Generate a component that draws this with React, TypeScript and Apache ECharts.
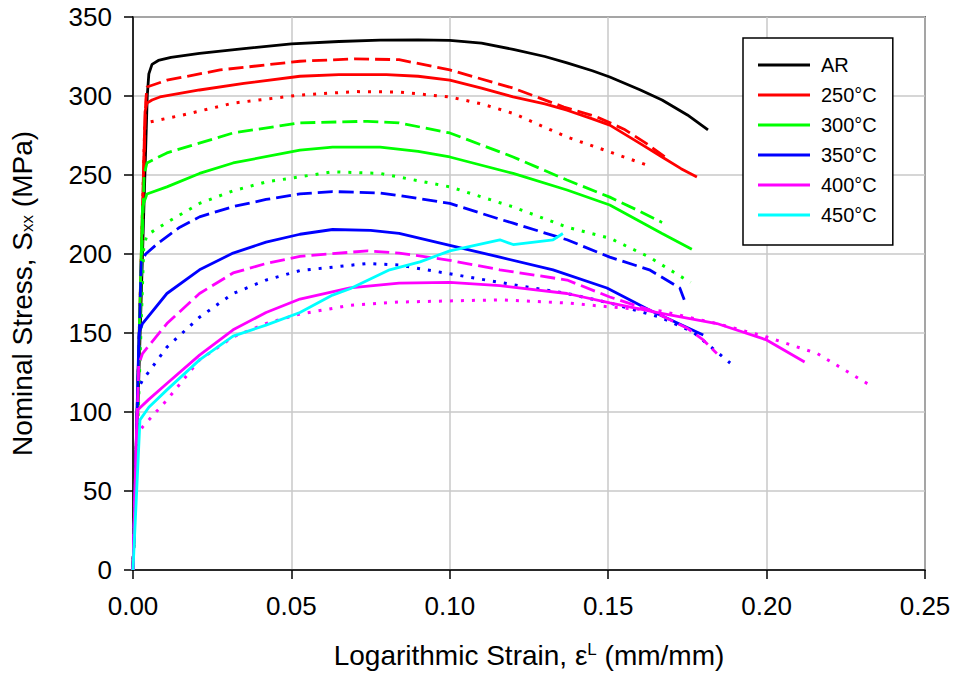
import React, { useEffect, useRef } from "react";
import * as echarts from "echarts";

type Pt = [number, number];

// Legend entries and colours
const LEGEND_NAMES = ["AR", "250°C", "300°C", "350°C", "400°C", "450°C"];
const COLORS = ["#000000", "#ff0000", "#00ff00", "#0000ff", "#ff00ff", "#00ffff"];

// X ticks / Y ticks
const X_MIN = 0;
const X_MAX = 0.25;
const X_STEP = 0.05;
const Y_MIN = 0;
const Y_MAX = 350;
const Y_STEP = 50;

// AR (as received) - solid black
const AR_SOLID: Pt[] = [
  [0, 0], [0.0045, 300], [0.005, 314], [0.006, 320], [0.008, 322.5], [0.012, 324.5],
  [0.021, 327], [0.035, 330], [0.05, 333], [0.065, 334.5], [0.078, 335.4], [0.09, 335.5],
  [0.1, 335.2], [0.11, 333.5], [0.12, 329.5], [0.13, 325], [0.137, 321], [0.145, 316],
  [0.1505, 312], [0.16, 304], [0.167, 297.5], [0.175, 288], [0.1815, 278.5],
];

// 250 °C
const T250_SOLID: Pt[] = [
  [0, 0], [0.0038, 290], [0.0044, 295.5], [0.006, 297.5], [0.0085, 299.4], [0.021, 303.8],
  [0.035, 308], [0.0527, 312.5], [0.065, 313.5], [0.08, 313.5], [0.09, 312.5], [0.1, 310],
  [0.11, 305], [0.12, 299.4], [0.13, 295], [0.137, 291], [0.145, 285.5], [0.1505, 281.6],
  [0.16, 270], [0.167, 261.4], [0.173, 254], [0.178, 248.8],
];
const T250_DASHED: Pt[] = [
  [0, 0], [0.004, 296], [0.0044, 305.7], [0.0107, 310], [0.0275, 316.5], [0.0527, 322],
  [0.07, 323.5], [0.084, 323], [0.1, 316.5], [0.12, 305], [0.136, 293], [0.1465, 286.7],
  [0.155, 279], [0.162, 270], [0.1685, 260.7],
];
const T250_DOTTED: Pt[] = [
  [0, 0], [0.0037, 280], [0.0054, 283.6], [0.0158, 288], [0.0316, 295.5], [0.0527, 300.6],
  [0.07, 302.8], [0.084, 302.5], [0.1, 299.4], [0.11, 295], [0.12, 289], [0.137, 274],
  [0.1505, 264.6], [0.164, 255],
];

// 300 °C
const T300_SOLID: Pt[] = [
  [0, 0], [0.003, 230], [0.0044, 238], [0.0107, 242.5], [0.021, 251], [0.0316, 257.6],
  [0.0527, 265.8], [0.063, 267.7], [0.078, 267.7], [0.09, 265], [0.1, 261.4], [0.12, 251],
  [0.137, 240.5], [0.1505, 231], [0.167, 213], [0.1764, 203],
];
const T300_DASHED: Pt[] = [
  [0, 0], [0.0035, 250], [0.0044, 257.6], [0.0107, 264], [0.0316, 276.6], [0.0527, 283],
  [0.074, 284], [0.084, 283], [0.1, 276.6], [0.12, 261.4], [0.137, 246.8], [0.1505, 236],
  [0.16, 227], [0.167, 220],
];
const T300_DOTTED: Pt[] = [
  [0, 0], [0.0034, 205], [0.0044, 212], [0.0107, 220], [0.021, 232], [0.0316, 240],
  [0.042, 245.6], [0.063, 252], [0.078, 251], [0.1, 242.5], [0.12, 229.8], [0.137, 217],
  [0.1505, 210], [0.163, 198], [0.176, 182],
];

// 350 °C
const T350_SOLID: Pt[] = [
  [0, 0], [0.0019, 150], [0.003, 156], [0.0107, 175], [0.021, 190], [0.0316, 200.6],
  [0.042, 207.5], [0.0527, 212.5], [0.063, 215.5], [0.075, 215], [0.084, 213], [0.1, 205.5],
  [0.1158, 198], [0.1326, 190], [0.1496, 178.5], [0.163, 164.6], [0.18, 148.7],
];
const T350_DASHED: Pt[] = [
  [0, 0], [0.0026, 195], [0.004, 200], [0.008, 207], [0.0148, 217], [0.021, 223.5],
  [0.0316, 230], [0.042, 234.5], [0.0527, 238], [0.063, 239.5], [0.078, 238.6], [0.084, 237],
  [0.1, 232], [0.1158, 222], [0.12, 219.5], [0.137, 209], [0.1505, 198], [0.163, 190],
  [0.1726, 178.5], [0.174, 171],
];
const T350_DOTTED: Pt[] = [
  [0, 0], [0.0016, 115], [0.003, 120], [0.0107, 141], [0.021, 160], [0.0316, 175],
  [0.042, 183.5], [0.0527, 189.5], [0.074, 194], [0.084, 193], [0.1158, 182], [0.137, 175],
  [0.1505, 169], [0.1664, 160], [0.1768, 150.6], [0.1885, 131],
];

// 400 °C
const T400_SOLID: Pt[] = [
  [0, 0], [0.0013, 101], [0.005, 108], [0.0107, 118], [0.021, 136], [0.0316, 152],
  [0.042, 163], [0.0527, 171.5], [0.0685, 178.5], [0.084, 181.6], [0.1, 182], [0.1158, 180],
  [0.137, 175], [0.1505, 169], [0.1664, 162.6], [0.1843, 156], [0.2, 145.6], [0.212, 131.6],
];
const T400_DASHED: Pt[] = [
  [0, 0], [0.0018, 130], [0.003, 137], [0.0107, 156], [0.021, 175], [0.0316, 188],
  [0.042, 194], [0.0527, 198.5], [0.074, 202], [0.084, 200.6], [0.1, 196], [0.1158, 190],
  [0.137, 183.5], [0.1505, 172.8], [0.163, 164.6], [0.175, 153], [0.18, 145.6], [0.1843, 137],
];
const T400_DOTTED: Pt[] = [
  [0, 0], [0.0013, 85], [0.003, 90.5], [0.0107, 107.6], [0.021, 133], [0.0316, 147.5],
  [0.042, 156], [0.0527, 162], [0.0685, 167.5], [0.084, 169.6], [0.1158, 171], [0.137, 169],
  [0.1505, 166.5], [0.1664, 164], [0.1843, 156], [0.2, 147.5], [0.216, 137], [0.2326, 117],
];

// 450 °C
const T450_SOLID: Pt[] = [
  [0, 0], [0.0022, 95], [0.005, 103], [0.0107, 114], [0.021, 133], [0.0316, 148],
  [0.042, 155], [0.0527, 163], [0.063, 174], [0.0685, 178], [0.081, 190], [0.0906, 195],
  [0.1, 202], [0.1158, 209], [0.12, 206], [0.1326, 209], [0.1357, 213],
];

const FONT = "Liberation Sans, Arial, sans-serif";

type Style = "solid" | "dashed" | "dotted";
const SERIES_DEFS: { name: string; data: Pt[]; color: string; style: Style }[] = [
  { name: "AR", data: AR_SOLID, color: COLORS[0], style: "solid" },
  { name: "250°C", data: T250_SOLID, color: COLORS[1], style: "solid" },
  { name: "250°C dashed", data: T250_DASHED, color: COLORS[1], style: "dashed" },
  { name: "250°C dotted", data: T250_DOTTED, color: COLORS[1], style: "dotted" },
  { name: "300°C", data: T300_SOLID, color: COLORS[2], style: "solid" },
  { name: "300°C dashed", data: T300_DASHED, color: COLORS[2], style: "dashed" },
  { name: "300°C dotted", data: T300_DOTTED, color: COLORS[2], style: "dotted" },
  { name: "350°C", data: T350_SOLID, color: COLORS[3], style: "solid" },
  { name: "350°C dashed", data: T350_DASHED, color: COLORS[3], style: "dashed" },
  { name: "350°C dotted", data: T350_DOTTED, color: COLORS[3], style: "dotted" },
  { name: "400°C", data: T400_SOLID, color: COLORS[4], style: "solid" },
  { name: "400°C dashed", data: T400_DASHED, color: COLORS[4], style: "dashed" },
  { name: "400°C dotted", data: T400_DOTTED, color: COLORS[4], style: "dotted" },
  { name: "450°C", data: T450_SOLID, color: COLORS[5], style: "solid" },
];

function dashFor(style: Style): any {
  if (style === "dashed") return [15, 6];
  if (style === "dotted") return [3, 8];
  return "solid";
}

export default function App() {
  const ref = useRef<HTMLDivElement>(null);
  useEffect(() => {
    if (!ref.current) return;
    const chart = echarts.init(ref.current, undefined, { renderer: "svg" });
    const option: any = {
      animation: false,
      backgroundColor: "#ffffff",
      grid: {
        left: 133,
        right: 29,
        top: 17,
        bottom: 111,
        show: true,
        borderColor: "#000",
        borderWidth: 1.5,
        backgroundColor: "transparent",
      },
      legend: {
        data: LEGEND_NAMES,
        orient: "vertical",
        left: 743,
        top: 38,
        icon: "rect",
        itemWidth: 52,
        itemHeight: 3,
        itemGap: 10,
        padding: [17, 16, 20, 15],
        borderColor: "#000",
        borderWidth: 1.5,
        backgroundColor: "#fff",
        selectedMode: false,
        textStyle: {
          fontFamily: FONT,
          fontSize: 20,
          color: "#000",
          lineHeight: 20,
          padding: [0, 0, 0, 6],
        },
      },
      xAxis: {
        type: "value",
        min: X_MIN,
        max: X_MAX,
        interval: X_STEP,
        name: "Logarithmic Strain, ε{sup|L} (mm/mm)",
        nameLocation: "middle",
        nameGap: 71,
        nameTextStyle: {
          fontFamily: FONT,
          fontSize: 28,
          color: "#000",
          lineHeight: 28,
          rich: {
            sup: { fontFamily: FONT, fontSize: 17, color: "#000", verticalAlign: "top", lineHeight: 28, padding: [0, 0, 10, 0] },
          },
        },
        axisLine: { show: true, onZero: false, lineStyle: { color: "#000", width: 1.5 } },
        axisTick: { show: true, inside: false, length: 9, lineStyle: { color: "#000", width: 1.5 } },
        axisLabel: {
          margin: 23,
          fontFamily: FONT,
          fontSize: 26,
          color: "#000",
          formatter: (v: number) => v.toFixed(2),
        },
        splitLine: { show: true, lineStyle: { color: "#c8c8c8", width: 1.5 } },
      },
      yAxis: {
        type: "value",
        min: Y_MIN,
        max: Y_MAX,
        interval: Y_STEP,
        name: "Nominal Stress, S{sub|xx} (MPa)",
        nameLocation: "middle",
        nameGap: 97,
        nameTextStyle: {
          fontFamily: FONT,
          fontSize: 28,
          color: "#000",
          lineHeight: 28,
          rich: {
            sub: { fontFamily: FONT, fontSize: 17, color: "#000", verticalAlign: "bottom", lineHeight: 28, padding: [8, 0, 0, 0] },
          },
        },
        axisLine: { show: true, onZero: false, lineStyle: { color: "#000", width: 1.5 } },
        axisTick: { show: true, inside: false, length: 9, lineStyle: { color: "#000", width: 1.5 } },
        axisLabel: {
          margin: 21,
          fontFamily: FONT,
          fontSize: 26,
          color: "#000",
        },
        splitLine: { show: true, lineStyle: { color: "#c8c8c8", width: 1.5 } },
      },
      series: SERIES_DEFS.map((s) => ({
        name: s.name,
        type: "line",
        data: s.data,
        symbol: "none",
        showSymbol: false,
        smooth: false,
        color: s.color,
        itemStyle: { color: s.color },
        lineStyle: {
          color: s.color,
          width: s.style === "dotted" ? 3 : 2.8,
          type: dashFor(s.style),
          cap: "butt",
        },
        z: 3,
      })),
    };
    chart.setOption(option);
    return () => {
      chart.dispose();
    };
  }, []);
  return (
    <div
      ref={ref}
      style={{ position: "absolute", left: 0, top: 0, width: 954, height: 681, background: "#fff" }}
    />
  );
}
